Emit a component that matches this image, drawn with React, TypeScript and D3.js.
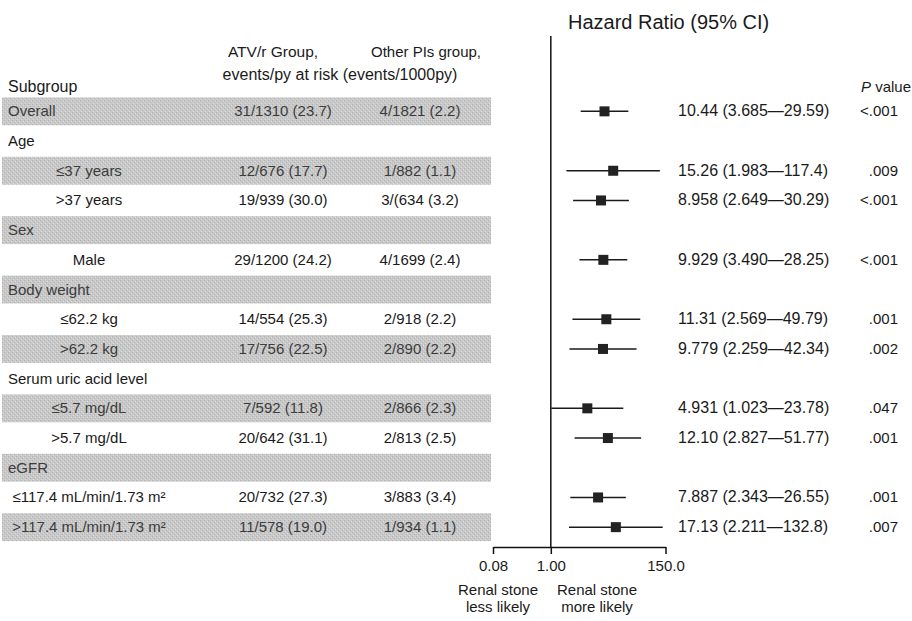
import React, { useEffect, useRef } from 'react';
import * as d3 from 'd3';

// Rows of the forest plot, top to bottom
const subgroups = [
  'Overall', 'Age', '≤37 years', '>37 years', 'Sex', 'Male', 'Body weight',
  '≤62.2 kg', '>62.2 kg', 'Serum uric acid level', '≤5.7 mg/dL', '>5.7 mg/dL',
  'eGFR', '≤117.4 mL/min/1.73 m²', '>117.4 mL/min/1.73 m²'
];
// 0 = category (left aligned), 1 = level (centered)
const rowLevel = [0, 0, 1, 1, 0, 1, 0, 1, 1, 0, 1, 1, 0, 1, 1];
const shaded = [true, false, true, false, true, false, true, false, true, false, true, false, true, false, true];

const atvEvents = [
  '31/1310 (23.7)', '', '12/676 (17.7)', '19/939 (30.0)', '', '29/1200 (24.2)', '',
  '14/554 (25.3)', '17/756 (22.5)', '', '7/592 (11.8)', '20/642 (31.1)', '',
  '20/732 (27.3)', '11/578 (19.0)'
];
const otherEvents = [
  '4/1821 (2.2)', '', '1/882 (1.1)', '3/(634 (3.2)', '', '4/1699 (2.4)', '',
  '2/918 (2.2)', '2/890 (2.2)', '', '2/866 (2.3)', '2/813 (2.5)', '',
  '3/883 (3.4)', '1/934 (1.1)'
];
const hr = [10.44, null, 15.26, 8.958, null, 9.929, null, 11.31, 9.779, null, 4.931, 12.10, null, 7.887, 17.13];
const ciLow = [3.685, null, 1.983, 2.649, null, 3.490, null, 2.569, 2.259, null, 1.023, 2.827, null, 2.343, 2.211];
const ciHigh = [29.59, null, 117.4, 30.29, null, 28.25, null, 49.79, 42.34, null, 23.78, 51.77, null, 26.55, 132.8];
const hrLabels = [
  '10.44 (3.685—29.59)', '', '15.26 (1.983—117.4)', '8.958 (2.649—30.29)', '',
  '9.929 (3.490—28.25)', '', '11.31 (2.569—49.79)', '9.779 (2.259—42.34)', '',
  '4.931 (1.023—23.78)', '12.10 (2.827—51.77)', '', '7.887 (2.343—26.55)', '17.13 (2.211—132.8)'
];
const pValues = ['<.001', '', '.009', '<.001', '', '<.001', '', '.001', '.002', '', '.047', '.001', '', '.001', '.007'];

const axisTicks = [0.08, 1, 150];
const axisTickLabels = ['0.08', '1.00', '150.0'];

const FONT = '"Liberation Sans", Arial, sans-serif';

const App = () => {
  const axisRef = useRef<SVGGElement>(null);

  const width = 912;
  const height = 621;

  const xScale = d3.scaleLog().domain([0.08, 150]).range([493, 665.5]);
  const yScale = d3.scaleBand<number>()
    .domain(d3.range(subgroups.length))
    .range([96.5, 542])
    .paddingInner(0.06)
    .paddingOuter(0.03);
  const axisY = 547;

  useEffect(() => {
    if (!axisRef.current) return;
    const g = d3.select(axisRef.current);
    g.selectAll('*').remove();
    const axis = d3.axisBottom(xScale)
      .tickValues(axisTicks)
      .tickFormat((d, i) => axisTickLabels[i])
      .tickSizeOuter(0)
      .tickSizeInner(7)
      .tickPadding(6);
    g.call(axis);
    g.select('.domain').attr('stroke', '#111').attr('stroke-width', 1.5);
    g.selectAll('.tick line').attr('stroke', '#111').attr('stroke-width', 1.5);
    g.selectAll('.tick text')
      .style('font-family', FONT)
      .style('font-size', '15px')
      .attr('fill', '#1a1a1a');
  }, []);

  const cy = (i: number) => (yScale(i) as number) + yScale.bandwidth() / 2;

  return (
    <svg width={width} height={height} style={{ position: 'absolute', left: 0, top: 0, background: '#fff' }}
      fontFamily={FONT}>
      <defs>
        {/* halftone-like grey for the shaded rows */}
        <pattern id="dither" width={4} height={4} patternUnits="userSpaceOnUse">
          <rect width={4} height={4} fill="#c8c8c8" />
          <rect x={0} y={0} width={1} height={1} fill="#b2b2b2" />
          <rect x={2} y={2} width={1} height={1} fill="#b2b2b2" />
          <rect x={1} y={3} width={1} height={1} fill="#dcdcdc" />
          <rect x={3} y={1} width={1} height={1} fill="#dcdcdc" />
        </pattern>
      </defs>

      {/* shaded rows */}
      {subgroups.map((s, i) => shaded[i] ? (
        <rect key={'band' + i} x={2} y={yScale(i)} width={489} height={yScale.bandwidth()} fill="url(#dither)" />
      ) : null)}

      {/* headers */}
      <text x={568} y={29} fontSize={20} fill="#1a1a1a">Hazard Ratio (95% CI)</text>
      <text x={273} y={57} fontSize={15.5} fill="#1a1a1a" textAnchor="middle">ATV/r Group,</text>
      <text x={426} y={57} fontSize={15} fill="#1a1a1a" textAnchor="middle">Other PIs group,</text>
      <text x={340} y={80} fontSize={16} fill="#1a1a1a" textAnchor="middle">events/py at risk (events/1000py)</text>
      <text x={8} y={92} fontSize={16} fill="#1a1a1a">Subgroup</text>
      <text x={911} y={92} fontSize={15} fill="#1a1a1a" textAnchor="end">
        <tspan fontStyle="italic">P</tspan> value
      </text>

      {/* table text */}
      {subgroups.map((s, i) => {
        const col = shaded[i] ? '#3c3c3c' : '#1a1a1a';
        const y = cy(i) + 5;
        return (
          <g key={'row' + i} fill={col} fontSize={15}>
            <text x={rowLevel[i] === 0 ? 8 : 89} y={y} textAnchor={rowLevel[i] === 0 ? 'start' : 'middle'}>{s}</text>
            <text x={283} y={y} textAnchor="middle">{atvEvents[i]}</text>
            <text x={420} y={y} textAnchor="middle">{otherEvents[i]}</text>
            <text x={678} y={y} fill="#1a1a1a" fontSize={16}>{hrLabels[i]}</text>
            <text x={898} y={y} fill="#1a1a1a" textAnchor="end">{pValues[i]}</text>
          </g>
        );
      })}

      {/* reference line at HR = 1 */}
      <line x1={xScale(1)} x2={xScale(1)} y1={36} y2={axisY} stroke="#111" strokeWidth={1.5} />

      {/* CIs and point estimates */}
      {hr.map((v, i) => v == null ? null : (
        <g key={'ci' + i}>
          <line x1={xScale(ciLow[i] as number)} x2={xScale(ciHigh[i] as number)} y1={cy(i)} y2={cy(i)}
            stroke="#1a1a1a" strokeWidth={1.5} />
          <rect x={xScale(v) - 5} y={cy(i) - 5} width={10} height={10} fill="#222" />
        </g>
      ))}

      <g ref={axisRef} transform={`translate(0,${axisY})`} />

      <g fontSize={15} fill="#1a1a1a" textAnchor="middle">
        <text x={498} y={595}>Renal stone</text>
        <text x={498} y={612}>less likely</text>
        <text x={597} y={595}>Renal stone</text>
        <text x={597} y={612}>more likely</text>
      </g>
    </svg>
  );
};

export default App;
